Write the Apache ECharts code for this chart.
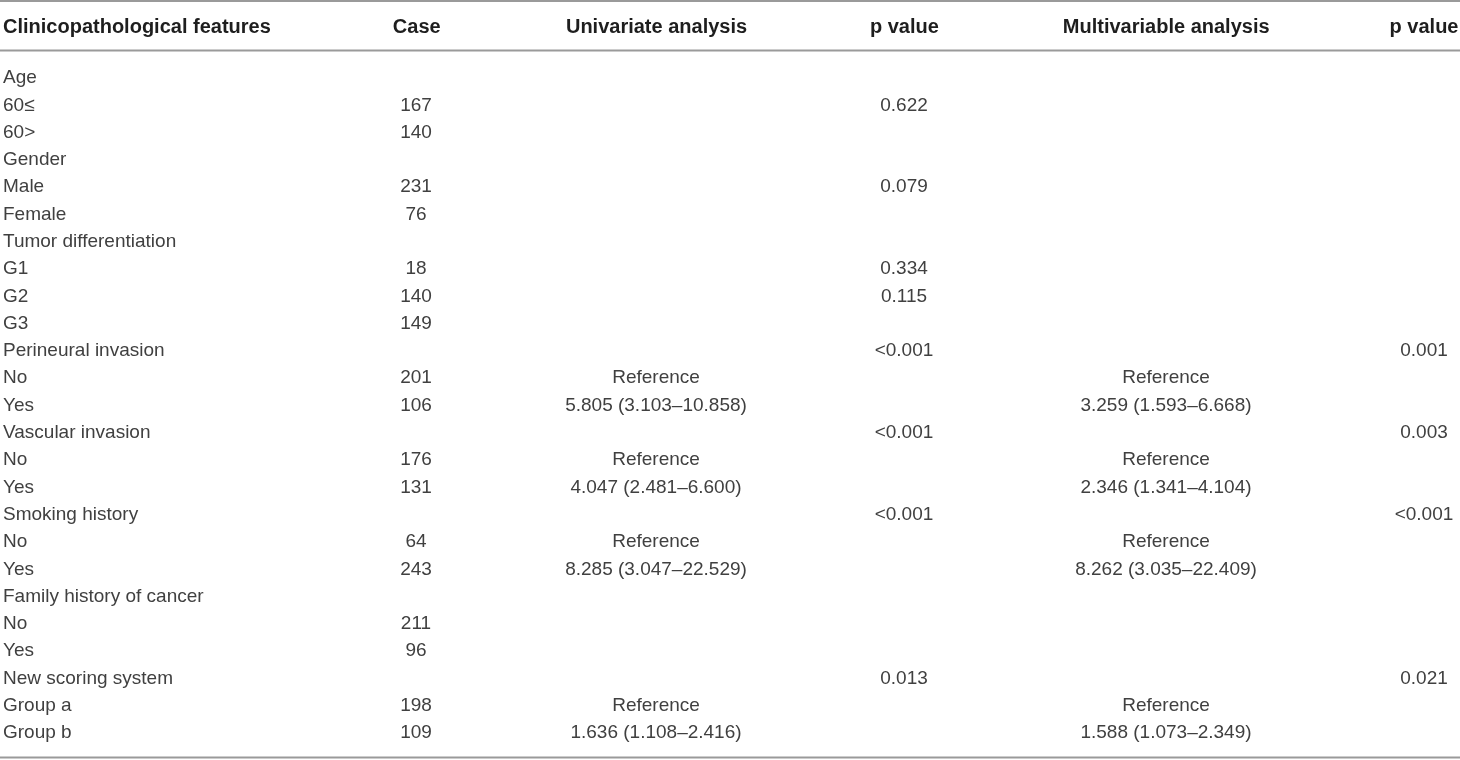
<!DOCTYPE html>
<html>
<head>
<meta charset="utf-8">
<script src="https://cdn.jsdelivr.net/npm/echarts@6/dist/echarts.min.js"></script>
<style>
  html, body { margin: 0; padding: 0; background: #fff; }
  #container { width: 1460px; height: 760px; }
</style>
</head>
<body>
<div id="container"></div>
<script>
var headers = ['Clinicopathological features', 'Case', 'Univariate analysis', 'p value', 'Multivariable analysis', 'p value'];

var features = ['Age', '60≤', '60>', 'Gender', 'Male', 'Female', 'Tumor differentiation', 'G1', 'G2', 'G3',
    'Perineural invasion', 'No', 'Yes', 'Vascular invasion', 'No', 'Yes', 'Smoking history', 'No', 'Yes',
    'Family history of cancer', 'No', 'Yes', 'New scoring system', 'Group a', 'Group b'];

var cases = ['', '167', '140', '', '231', '76', '', '18', '140', '149',
    '', '201', '106', '', '176', '131', '', '64', '243',
    '', '211', '96', '', '198', '109'];

var uniHR = ['', '', '', '', '', '', '', '', '', '',
    '', 'Reference', '5.805 (3.103–10.858)', '', 'Reference', '4.047 (2.481–6.600)', '', 'Reference', '8.285 (3.047–22.529)',
    '', '', '', '', 'Reference', '1.636 (1.108–2.416)'];

var uniP = ['', '0.622', '', '', '0.079', '', '', '0.334', '0.115', '',
    '<0.001', '', '', '<0.001', '', '', '<0.001', '', '',
    '', '', '', '0.013', '', ''];

var multiHR = ['', '', '', '', '', '', '', '', '', '',
    '', 'Reference', '3.259 (1.593–6.668)', '', 'Reference', '2.346 (1.341–4.104)', '', 'Reference', '8.262 (3.035–22.409)',
    '', '', '', '', 'Reference', '1.588 (1.073–2.349)'];

var multiP = ['', '', '', '', '', '', '', '', '', '',
    '0.001', '', '', '0.003', '', '', '<0.001', '', '',
    '', '', '', '0.021', '', ''];

// column centres on the hidden x axis (0..1460)
var colX = [0, 416, 656, 904, 1166, 1424];

var bodyFont = {
    fontFamily: 'Liberation Sans, Arial, sans-serif',
    fontSize: 19,
    color: '#404040'
};
var headFont = {
    fontFamily: 'Liberation Sans, Arial, sans-serif',
    fontSize: 20,
    fontWeight: 'bold',
    color: '#1e1e1e'
};
var ruleColor = '#9a9a9a';

function cellSeries(values, x, grid) {
    var data = [];
    values.forEach(function(v, i) {
        if (v !== '') data.push([x, i, v]);
    });
    return {
        type: 'scatter',
        xAxisIndex: grid,
        yAxisIndex: grid,
        symbolSize: 0,
        silent: true,
        itemStyle: { opacity: 1 },
        data: data,
        label: Object.assign({
            show: true,
            position: 'inside',
            align: 'center',
            verticalAlign: 'middle',
            opacity: 1,
            formatter: function(p) { return p.value[2]; }
        }, grid === 0 ? headFont : bodyFont)
    };
}

var dom = document.getElementById('container');
var myChart = echarts.init(dom);

var series = [];
[cases, uniHR, uniP, multiHR, multiP].forEach(function(col, k) {
    series.push(cellSeries(col, colX[k + 1], 1));
});
headers.slice(1).forEach(function(h, k) {
    series.push(cellSeries([h], colX[k + 1], 0));
});

var option = {
    backgroundColor: '#fff',
    animation: false,
    grid: [
        { left: 0, right: 0, top: 3, height: 49 },
        { left: 0, right: 0, top: 64.4, height: 682.3 }
    ],
    xAxis: [
        { type: 'value', gridIndex: 0, min: 0, max: 1460, show: false },
        { type: 'value', gridIndex: 1, min: 0, max: 1460, show: false }
    ],
    yAxis: [
        {
            type: 'category', gridIndex: 0, data: [headers[0]],
            axisLine: { show: false }, axisTick: { show: false }, splitLine: { show: false },
            axisLabel: Object.assign({ inside: true, margin: 2, interval: 0 }, headFont)
        },
        {
            type: 'category', gridIndex: 1, data: features, inverse: true,
            axisLine: { show: false }, axisTick: { show: false }, splitLine: { show: false },
            axisLabel: Object.assign({ inside: true, margin: 3, interval: 0 }, bodyFont)
        }
    ],
    graphic: [
        { type: 'line', shape: { x1: 0, y1: 1, x2: 1460, y2: 1 }, style: { stroke: ruleColor, lineWidth: 2 } },
        { type: 'line', shape: { x1: 0, y1: 50.5, x2: 1460, y2: 50.5 }, style: { stroke: ruleColor, lineWidth: 2 } },
        { type: 'line', shape: { x1: 0, y1: 757.5, x2: 1460, y2: 757.5 }, style: { stroke: ruleColor, lineWidth: 2 } }
    ],
    series: series
};

myChart.setOption(option);

window.addEventListener('resize', function() {
    myChart.resize();
});
</script>
</body>
</html>
